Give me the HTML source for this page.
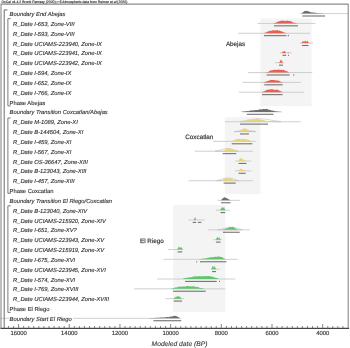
<!DOCTYPE html><html><head><meta charset="utf-8"><style>html,body{margin:0;padding:0;background:#fff;overflow:hidden}svg{display:block;will-change:transform;text-rendering:geometricPrecision}</style></head><body><svg width="350" height="348" viewBox="0 0 350 348">
<rect width="350" height="348" fill="#fff"/>
<rect x="260.3" y="18.5" width="51.20" height="87.70" fill="#f4f4f4"/>
<rect x="224.8" y="117.2" width="35.50" height="76.90" fill="#f4f4f4"/>
<rect x="173.1" y="205.0" width="52.30" height="107.00" fill="#f4f4f4"/>
<g font-family="Liberation Sans, sans-serif" font-size="6.3" fill="#2e2e2e" stroke="#2e2e2e" stroke-width="0.25" stroke-opacity="0.6">
<text x="225.9" y="45.8">Abejas</text>
<text x="185.3" y="138.8">Coxcatlan</text>
<text x="140.0" y="242.5">El Riego</text>
</g>
<line x1="300" y1="13.60" x2="348" y2="13.60" stroke="#c4c4c4" stroke-width="0.8"/>
<path d="M301.60 13.60 L301.60 13.60 L302.50 12.56 L303.40 11.94 L304.30 11.08 L305.20 11.21 L306.10 10.74 L307.00 10.98 L307.90 11.30 L308.80 11.31 L309.70 11.89 L310.60 11.96 L311.50 12.41 L312.40 12.58 L313.30 12.56 L314.20 12.49 L315.10 12.81 L316.00 12.89 L316.90 12.97 L317.80 13.05 L318.70 13.13 L319.60 13.21 L320.50 13.27 L321.40 13.32 L322.30 13.36 L323.20 13.41 L324.10 13.45 L325.00 13.50 L325.90 13.54 L326.80 13.59 L327.00 13.60 L327.00 13.60 Z" fill="#6e6e6e"/>
<rect x="302.3" y="15.45" width="22.80" height="1.1" fill="#737373"/>
<line x1="257.6" y1="23.43" x2="315.4" y2="23.43" stroke="#c4c4c4" stroke-width="0.8"/>
<path d="M273.20 23.43 L273.20 23.43 L274.10 23.13 L275.00 22.83 L275.90 22.75 L276.80 22.33 L277.70 21.76 L278.60 21.25 L279.50 21.21 L280.40 21.09 L281.30 20.56 L282.20 21.03 L283.10 20.47 L284.00 20.86 L284.90 20.99 L285.80 20.97 L286.70 20.81 L287.60 20.55 L288.50 21.02 L289.40 20.93 L290.30 21.12 L291.20 21.54 L292.10 21.79 L293.00 22.44 L293.90 22.76 L294.80 22.76 L295.70 23.00 L296.60 23.21 L297.50 23.43 L297.50 23.43 L297.50 23.43 Z" fill="#e8604f"/>
<rect x="274" y="25.28" width="24.00" height="1.1" fill="#737373"/>
<line x1="238" y1="33.26" x2="310" y2="33.26" stroke="#c4c4c4" stroke-width="0.8"/>
<path d="M263.50 33.26 L263.50 33.26 L264.40 32.90 L265.30 32.54 L266.20 32.41 L267.10 31.77 L268.00 31.60 L268.90 31.36 L269.80 30.96 L270.70 30.81 L271.60 30.74 L272.50 30.31 L273.40 30.27 L274.30 30.50 L275.20 30.28 L276.10 30.35 L277.00 30.18 L277.90 30.36 L278.80 30.72 L279.70 30.50 L280.60 31.24 L281.50 31.36 L282.40 31.52 L283.30 32.25 L284.20 32.46 L285.10 32.79 L286.00 33.09 L286.50 33.26 L286.50 33.26 Z" fill="#e8604f"/>
<rect x="264" y="35.11" width="22.50" height="1.1" fill="#737373"/>
<rect x="287.8" y="35.11" width="1.20" height="1.1" fill="#737373"/>
<line x1="300" y1="43.09" x2="313" y2="43.09" stroke="#c4c4c4" stroke-width="0.8"/>
<path d="M301.50 43.09 L301.50 43.09 L302.20 40.89 L303.00 42.49 L304.00 40.59 L304.80 42.09 L305.80 40.49 L306.60 41.89 L307.60 40.79 L308.40 42.29 L309.20 43.09 L309.20 43.09 Z" fill="#e8604f"/>
<rect x="302" y="44.94" width="6.50" height="1.1" fill="#737373"/>
<line x1="280" y1="52.92" x2="292" y2="52.92" stroke="#c4c4c4" stroke-width="0.8"/>
<path d="M282.00 52.92 L282.00 52.92 L282.80 51.12 L283.60 52.12 L284.60 50.72 L285.40 51.92 L286.20 52.92 L287.60 52.92 L288.20 51.92 L288.80 52.92 L288.80 52.92 Z" fill="#e8604f"/>
<rect x="282.5" y="54.77" width="3.70" height="1.1" fill="#737373"/>
<rect x="288" y="54.77" width="1.00" height="1.1" fill="#737373"/>
<line x1="274.5" y1="62.75" x2="284" y2="62.75" stroke="#c4c4c4" stroke-width="0.8"/>
<path d="M278.30 62.75 L278.30 62.75 L279.00 61.95 L279.80 62.35 L280.60 59.75 L281.60 60.15 L282.90 62.75 L282.90 62.75 Z" fill="#e8604f"/>
<rect x="279" y="64.60" width="4.00" height="1.1" fill="#737373"/>
<line x1="248" y1="72.58" x2="312.3" y2="72.58" stroke="#c4c4c4" stroke-width="0.8"/>
<path d="M264.60 72.58 L264.60 72.58 L265.50 72.36 L266.40 72.13 L267.30 71.88 L268.20 71.89 L269.10 71.19 L270.00 70.82 L270.90 70.62 L271.80 70.16 L272.70 70.23 L273.60 69.85 L274.50 69.82 L275.40 69.80 L276.30 69.92 L277.20 69.71 L278.10 69.55 L279.00 69.75 L279.90 69.68 L280.80 70.08 L281.70 69.78 L282.60 69.90 L283.50 69.86 L284.40 70.19 L285.30 70.79 L286.20 71.14 L287.10 71.37 L288.00 71.82 L288.90 72.22 L289.70 72.58 L289.70 72.58 Z" fill="#e8604f"/>
<rect x="266.6" y="74.43" width="23.10" height="1.1" fill="#737373"/>
<rect x="293" y="74.43" width="1.20" height="1.1" fill="#737373"/>
<line x1="242.5" y1="82.41" x2="300.9" y2="82.41" stroke="#c4c4c4" stroke-width="0.8"/>
<path d="M263.50 82.41 L263.50 82.41 L264.40 82.05 L265.30 81.69 L266.20 81.67 L267.10 81.05 L268.00 80.91 L268.90 80.62 L269.80 80.42 L270.70 79.77 L271.60 80.08 L272.50 80.01 L273.40 79.99 L274.30 79.83 L275.20 80.44 L276.10 80.36 L277.00 80.43 L277.90 80.50 L278.80 80.81 L279.70 81.09 L280.60 81.75 L281.50 81.90 L282.40 82.25 L282.80 82.41 L282.80 82.41 Z" fill="#e8604f"/>
<rect x="264.3" y="84.26" width="18.30" height="1.1" fill="#737373"/>
<line x1="239" y1="92.24" x2="304" y2="92.24" stroke="#c4c4c4" stroke-width="0.8"/>
<path d="M261.80 92.24 L261.80 92.24 L262.70 91.86 L263.60 91.47 L264.50 91.17 L265.40 90.79 L266.30 90.07 L267.20 89.66 L268.10 89.87 L269.00 89.58 L269.90 89.42 L270.80 89.28 L271.70 89.17 L272.60 89.20 L273.50 89.56 L274.40 89.94 L275.30 89.82 L276.20 89.81 L277.10 89.69 L278.00 89.82 L278.90 90.34 L279.80 90.88 L280.70 91.27 L281.60 91.71 L282.50 92.11 L282.80 92.24 L282.80 92.24 Z" fill="#e8604f"/>
<rect x="262" y="94.09" width="20.60" height="1.1" fill="#737373"/>
<line x1="242" y1="111.90" x2="282" y2="111.90" stroke="#c4c4c4" stroke-width="0.8"/>
<path d="M240.50 111.90 L240.50 111.90 L241.40 111.80 L242.30 111.70 L243.20 111.60 L244.10 111.50 L245.00 111.40 L245.90 111.29 L246.80 111.18 L247.70 111.02 L248.60 111.29 L249.50 110.67 L250.40 110.62 L251.30 110.43 L252.20 110.34 L253.10 110.45 L254.00 110.31 L254.90 110.35 L255.80 109.90 L256.70 110.11 L257.60 109.97 L258.50 109.74 L259.40 109.62 L260.30 109.36 L261.20 109.39 L262.10 109.30 L263.00 109.09 L263.90 109.00 L264.80 108.91 L265.70 109.20 L266.60 108.79 L267.50 109.11 L268.40 109.63 L269.30 109.81 L270.20 110.00 L271.10 110.26 L272.00 110.68 L272.90 110.51 L273.80 110.64 L274.70 111.17 L275.60 111.31 L276.50 111.45 L277.40 111.55 L278.30 111.65 L279.20 111.75 L280.10 111.85 L280.60 111.90 L280.60 111.90 Z" fill="#6e6e6e"/>
<rect x="246.8" y="113.75" width="26.70" height="1.1" fill="#737373"/>
<line x1="225" y1="121.73" x2="300.9" y2="121.73" stroke="#c4c4c4" stroke-width="0.8"/>
<path d="M240.00 121.73 L240.00 121.73 L246.00 120.43 L252.00 119.33 L258.00 118.73 L264.00 118.93 L270.00 119.93 L276.00 120.93 L281.00 121.73 L281.00 121.73 Z" fill="none" stroke="#bdbdbd" stroke-width="0.6"/>
<path d="M239.70 121.73 L239.70 121.73 L240.60 121.54 L241.50 121.35 L242.40 121.16 L243.30 120.97 L244.20 120.85 L245.10 120.91 L246.00 120.72 L246.90 120.39 L247.80 120.28 L248.70 119.79 L249.60 120.03 L250.50 119.95 L251.40 119.26 L252.30 119.40 L253.20 119.52 L254.10 119.17 L255.00 119.36 L255.90 119.09 L256.80 118.84 L257.70 118.93 L258.60 119.05 L259.50 119.40 L260.40 119.47 L261.30 119.72 L262.20 119.50 L263.10 119.79 L264.00 119.95 L264.90 120.52 L265.80 120.88 L266.70 120.98 L267.60 121.30 L268.50 121.62 L268.80 121.73 L268.80 121.73 Z" fill="#e8d47a"/>
<rect x="240" y="123.58" width="28.00" height="1.1" fill="#737373"/>
<line x1="234.3" y1="131.56" x2="255.7" y2="131.56" stroke="#c4c4c4" stroke-width="0.8"/>
<path d="M234.30 131.56 L234.30 131.56 L239.00 130.96 L244.00 129.56 L250.00 130.56 L255.70 131.56 L255.70 131.56 Z" fill="none" stroke="#bdbdbd" stroke-width="0.6"/>
<path d="M239.30 131.56 L239.30 131.56 L241.00 130.36 L243.00 128.96 L244.50 128.26 L246.00 128.76 L248.00 130.36 L249.30 131.56 L249.30 131.56 Z" fill="#e8d47a"/>
<rect x="240" y="133.41" width="8.90" height="1.1" fill="#737373"/>
<line x1="213" y1="141.39" x2="255.7" y2="141.39" stroke="#c4c4c4" stroke-width="0.8"/>
<path d="M231.10 141.39 L231.10 141.39 L232.00 141.01 L232.90 140.63 L233.80 140.13 L234.70 139.67 L235.60 139.42 L236.50 139.13 L237.40 138.91 L238.30 138.87 L239.20 139.08 L240.10 138.83 L241.00 138.93 L241.90 139.12 L242.80 139.12 L243.70 139.07 L244.60 139.20 L245.50 139.06 L246.40 139.10 L247.30 139.70 L248.20 139.71 L249.10 139.98 L250.00 140.29 L250.90 140.80 L251.80 141.05 L252.70 141.22 L253.60 141.39 L253.60 141.39 Z" fill="#e8d47a"/>
<rect x="231.7" y="143.24" width="20.60" height="1.1" fill="#737373"/>
<line x1="194.8" y1="151.22" x2="252.9" y2="151.22" stroke="#c4c4c4" stroke-width="0.8"/>
<path d="M215.00 151.22 L215.00 151.22 L219.00 150.42 L224.00 148.72 L229.00 148.62 L234.00 149.82 L238.00 151.22 L238.00 151.22 Z" fill="none" stroke="#bdbdbd" stroke-width="0.6"/>
<path d="M222.70 151.22 L222.70 151.22 L223.60 150.60 L224.50 150.08 L225.40 149.49 L226.30 148.94 L227.20 148.69 L228.10 148.46 L229.00 148.35 L229.90 148.31 L230.80 148.69 L231.70 149.26 L232.60 149.61 L233.50 150.02 L234.40 150.62 L235.30 151.07 L235.60 151.22 L235.60 151.22 Z" fill="#e8d47a"/>
<rect x="222.7" y="153.07" width="13.50" height="1.1" fill="#737373"/>
<line x1="235" y1="161.05" x2="251.4" y2="161.05" stroke="#c4c4c4" stroke-width="0.8"/>
<path d="M237.90 161.05 L237.90 161.05 L239.00 159.55 L240.70 158.05 L242.00 158.85 L244.00 160.05 L246.40 161.05 L246.40 161.05 Z" fill="#e8d47a"/>
<rect x="238.6" y="162.90" width="7.80" height="1.1" fill="#737373"/>
<line x1="235" y1="170.88" x2="251.4" y2="170.88" stroke="#c4c4c4" stroke-width="0.8"/>
<path d="M237.90 170.88 L237.90 170.88 L239.20 169.88 L240.70 168.38 L242.00 169.28 L243.50 170.08 L245.00 170.88 L245.00 170.88 Z" fill="#e8d47a"/>
<rect x="238.6" y="172.73" width="7.10" height="1.1" fill="#737373"/>
<line x1="188.5" y1="180.71" x2="252.9" y2="180.71" stroke="#c4c4c4" stroke-width="0.8"/>
<path d="M216.40 180.71 L216.40 180.71 L221.00 179.41 L226.00 177.91 L231.00 178.11 L235.00 179.51 L238.60 180.71 L238.60 180.71 Z" fill="none" stroke="#bdbdbd" stroke-width="0.6"/>
<path d="M220.70 180.71 L220.70 180.71 L221.60 180.29 L222.50 180.16 L223.40 179.36 L224.30 178.81 L225.20 178.57 L226.10 178.30 L227.00 178.37 L227.90 178.46 L228.80 178.21 L229.70 178.62 L230.60 178.59 L231.50 178.80 L232.40 179.50 L233.30 179.90 L234.20 180.18 L235.10 180.50 L235.70 180.71 L235.70 180.71 Z" fill="#e8d47a"/>
<rect x="223.6" y="182.56" width="12.10" height="1.1" fill="#737373"/>
<line x1="217.6" y1="200.37" x2="239.9" y2="200.37" stroke="#c4c4c4" stroke-width="0.8"/>
<path d="M221.00 200.37 L221.00 200.37 L222.50 198.57 L224.50 197.27 L226.50 197.97 L228.50 199.17 L230.50 200.37 L230.50 200.37 Z" fill="#6e6e6e"/>
<rect x="221" y="202.22" width="9.50" height="1.1" fill="#737373"/>
<line x1="215.9" y1="210.20" x2="229.6" y2="210.20" stroke="#c4c4c4" stroke-width="0.8"/>
<path d="M220.20 210.20 L220.20 210.20 L221.20 208.20 L222.20 207.00 L223.00 208.20 L224.00 206.90 L225.30 210.20 L225.30 210.20 Z" fill="#62c46e"/>
<rect x="220.5" y="212.05" width="4.80" height="1.1" fill="#737373"/>
<line x1="188.4" y1="220.03" x2="204.7" y2="220.03" stroke="#c4c4c4" stroke-width="0.8"/>
<path d="M193.80 220.03 L193.80 220.03 L194.60 218.03 L195.20 216.83 L196.10 220.03 L196.10 220.03 Z" fill="#62c46e"/>
<rect x="192.7" y="221.88" width="3.40" height="1.1" fill="#737373"/>
<rect x="197.9" y="221.88" width="3.40" height="1.1" fill="#737373"/>
<line x1="208.2" y1="229.86" x2="250" y2="229.86" stroke="#c4c4c4" stroke-width="0.8"/>
<path d="M217.90 229.86 L217.90 229.86 L223.00 228.66 L228.00 227.26 L233.00 227.06 L238.00 228.46 L242.30 229.86 L242.30 229.86 Z" fill="none" stroke="#bdbdbd" stroke-width="0.6"/>
<path d="M222.40 229.86 L222.40 229.86 L223.30 229.58 L224.20 229.27 L225.10 228.65 L226.00 228.38 L226.90 228.30 L227.80 227.92 L228.70 227.64 L229.60 226.97 L230.50 226.90 L231.40 227.25 L232.30 226.89 L233.20 227.02 L234.10 227.47 L235.00 228.15 L235.90 228.53 L236.80 229.26 L237.70 229.48 L238.40 229.86 L238.40 229.86 Z" fill="#62c46e"/>
<rect x="223" y="231.71" width="16.70" height="1.1" fill="#737373"/>
<line x1="213.3" y1="239.69" x2="221.9" y2="239.69" stroke="#c4c4c4" stroke-width="0.8"/>
<path d="M215.90 239.69 L215.90 239.69 L216.60 237.89 L217.20 236.69 L218.20 238.49 L219.20 236.89 L220.00 238.69 L221.00 239.69 L221.00 239.69 Z" fill="#62c46e"/>
<rect x="216" y="241.54" width="4.50" height="1.1" fill="#737373"/>
<line x1="168" y1="249.52" x2="183" y2="249.52" stroke="#c4c4c4" stroke-width="0.8"/>
<path d="M177.10 249.52 L177.10 249.52 L178.20 247.72 L179.00 246.52 L180.20 247.92 L181.40 246.92 L182.90 249.52 L182.90 249.52 Z" fill="#62c46e"/>
<rect x="177.6" y="251.37" width="4.70" height="1.1" fill="#737373"/>
<line x1="163.4" y1="259.35" x2="237.7" y2="259.35" stroke="#c4c4c4" stroke-width="0.8"/>
<path d="M195.50 259.35 L195.50 259.35 L196.40 259.29 L197.30 259.23 L198.20 259.17 L199.10 259.11 L200.00 259.05 L200.90 258.94 L201.80 258.83 L202.70 258.73 L203.60 258.62 L204.50 258.85 L205.40 258.15 L206.30 258.18 L207.20 258.10 L208.10 257.70 L209.00 257.84 L209.90 257.37 L210.80 257.20 L211.70 257.37 L212.60 257.14 L213.50 256.99 L214.40 256.96 L215.30 256.69 L216.20 256.84 L217.10 256.71 L218.00 256.85 L218.90 256.36 L219.80 256.82 L220.70 256.90 L221.60 257.01 L222.50 257.36 L223.40 258.19 L224.30 258.59 L225.20 259.08 L225.70 259.35 L225.70 259.35 Z" fill="#62c46e"/>
<rect x="196.2" y="261.20" width="1.00" height="1.1" fill="#737373"/>
<rect x="200" y="261.20" width="26.30" height="1.1" fill="#737373"/>
<line x1="211" y1="269.18" x2="219.4" y2="269.18" stroke="#c4c4c4" stroke-width="0.8"/>
<path d="M211.40 269.18 L211.40 269.18 L212.20 266.78 L213.00 265.78 L213.80 267.78 L214.80 265.98 L216.00 269.18 L216.00 269.18 Z" fill="#62c46e"/>
<rect x="212" y="271.03" width="4.00" height="1.1" fill="#737373"/>
<line x1="157.1" y1="279.01" x2="235.4" y2="279.01" stroke="#c4c4c4" stroke-width="0.8"/>
<path d="M182.00 279.01 L182.00 279.01 L182.90 278.77 L183.80 278.53 L184.70 278.29 L185.60 277.86 L186.50 277.88 L187.40 277.64 L188.30 277.42 L189.20 277.56 L190.10 277.18 L191.00 277.20 L191.90 277.17 L192.80 276.57 L193.70 276.83 L194.60 276.52 L195.50 276.25 L196.40 276.31 L197.30 276.43 L198.20 276.29 L199.10 276.25 L200.00 276.09 L200.90 276.48 L201.80 276.19 L202.70 276.36 L203.60 276.32 L204.50 276.01 L205.40 276.16 L206.30 276.15 L207.20 276.05 L208.10 275.97 L209.00 276.27 L209.90 276.19 L210.80 276.42 L211.70 276.59 L212.60 276.66 L213.50 277.09 L214.40 277.40 L215.30 277.79 L216.20 277.84 L217.10 278.27 L218.00 278.48 L218.90 278.69 L219.80 278.95 L220.00 279.01 L220.00 279.01 Z" fill="#62c46e"/>
<rect x="185.1" y="280.86" width="31.60" height="1.1" fill="#737373"/>
<rect x="219" y="280.86" width="1.00" height="1.1" fill="#737373"/>
<line x1="134" y1="288.84" x2="225.1" y2="288.84" stroke="#c4c4c4" stroke-width="0.8"/>
<path d="M170.00 288.84 L170.00 288.84 L170.90 288.66 L171.80 288.48 L172.70 288.30 L173.60 288.10 L174.50 287.82 L175.40 287.50 L176.30 287.25 L177.20 287.45 L178.10 287.06 L179.00 286.62 L179.90 286.54 L180.80 286.81 L181.70 286.67 L182.60 286.41 L183.50 286.61 L184.40 286.49 L185.30 286.56 L186.20 286.19 L187.10 286.12 L188.00 286.05 L188.90 286.50 L189.80 286.16 L190.70 286.22 L191.60 286.56 L192.50 286.14 L193.40 286.19 L194.30 286.82 L195.20 286.56 L196.10 287.07 L197.00 287.20 L197.90 287.08 L198.80 287.35 L199.70 287.93 L200.60 287.95 L201.50 288.04 L202.40 288.22 L203.30 288.39 L204.20 288.56 L205.10 288.73 L205.70 288.84 L205.70 288.84 Z" fill="#62c46e"/>
<rect x="173" y="290.69" width="32.70" height="1.1" fill="#737373"/>
<line x1="165.7" y1="298.67" x2="184" y2="298.67" stroke="#c4c4c4" stroke-width="0.8"/>
<path d="M173.70 298.67 L173.70 298.67 L175.00 297.37 L177.00 296.47 L178.50 296.17 L180.00 296.67 L181.70 298.67 L181.70 298.67 Z" fill="#62c46e"/>
<rect x="173.7" y="300.52" width="8.30" height="1.1" fill="#737373"/>
<line x1="73" y1="318.33" x2="181.4" y2="318.33" stroke="#c4c4c4" stroke-width="0.8"/>
<path d="M146.00 318.33 L146.00 318.33 L146.90 318.29 L147.80 318.24 L148.70 318.20 L149.60 318.15 L150.50 318.11 L151.40 318.06 L152.30 318.02 L153.20 317.97 L154.10 317.93 L155.00 317.88 L155.90 317.84 L156.80 317.79 L157.70 317.75 L158.60 317.69 L159.50 317.63 L160.40 317.57 L161.30 317.55 L162.20 317.60 L163.10 317.62 L164.00 317.49 L164.90 317.16 L165.80 317.49 L166.70 317.08 L167.60 317.06 L168.50 317.22 L169.40 316.92 L170.30 316.61 L171.20 316.54 L172.10 316.68 L173.00 315.99 L173.90 315.94 L174.80 315.66 L175.70 316.02 L176.60 316.22 L177.50 316.66 L178.40 316.93 L179.30 317.77 L180.00 318.33 L180.00 318.33 Z" fill="#6e6e6e"/>
<rect x="153.4" y="320.18" width="27.90" height="1.1" fill="#737373"/>
<line x1="0" y1="318.3" x2="9.5" y2="318.3" stroke="#c4c4c4" stroke-width="0.8"/>
<polyline points="1.0,328.2 1.0,4.1 348.2,4.1 348.2,328.2" stroke="#8a8a8a" stroke-width="1.1" fill="none"/>
<line x1="0.5" y1="328.3" x2="349.1" y2="328.3" stroke="#444" stroke-width="1.2"/>
<polyline points="7.4,9.9 4.2,9.9 4.2,328.2" stroke="#5a5a5a" stroke-width="0.9" fill="none"/>
<polyline points="10.7,18.6 7.9,18.6 7.9,105.9 10.7,105.9" stroke="#5a5a5a" stroke-width="0.8" fill="none"/>
<polyline points="10.7,118.0 7.9,118.0 7.9,193.3 10.7,193.3" stroke="#5a5a5a" stroke-width="0.8" fill="none"/>
<polyline points="10.7,205.8 7.9,205.8 7.9,312.4 10.7,312.4" stroke="#5a5a5a" stroke-width="0.8" fill="none"/>
<g font-family="Liberation Sans, sans-serif" font-size="5.8" fill="#2e2e2e" stroke="#2e2e2e" stroke-width="0.2" stroke-opacity="0.55">
<text x="9.6" y="16.10" font-style="italic">Boundary End Abejas</text>
<text x="13.0" y="25.93" font-style="italic">R_Date I-653, Zone-VIII</text>
<text x="13.0" y="35.76" font-style="italic">R_Date I-593, Zone-VIII</text>
<text x="13.0" y="45.59" font-style="italic">R_Date UCIAMS-223940, Zone-IX</text>
<text x="13.0" y="55.42" font-style="italic">R_Date UCIAMS-223941, Zone-IX</text>
<text x="13.0" y="65.25" font-style="italic">R_Date UCIAMS-223942, Zone-IX</text>
<text x="13.0" y="75.08" font-style="italic">R_Date I-594, Zone-IX</text>
<text x="13.0" y="84.91" font-style="italic">R_Date I-652, Zone-IX</text>
<text x="13.0" y="94.74" font-style="italic">R_Date I-766, Zone-IX</text>
<text x="9.6" y="104.57">Phase Abejas</text>
<text x="9.6" y="114.40" font-style="italic">Boundary Transition Coxcatlan/Abejas</text>
<text x="13.0" y="124.23" font-style="italic">R_Date M-1089, Zone-XI</text>
<text x="13.0" y="134.06" font-style="italic">R_Date B-144504, Zone-XI</text>
<text x="13.0" y="143.89" font-style="italic">R_Date I-459, Zone-XI</text>
<text x="13.0" y="153.72" font-style="italic">R_Date I-567, Zone-XI</text>
<text x="13.0" y="163.55" font-style="italic">R_Date OS-36647, Zone-XIII</text>
<text x="13.0" y="173.38" font-style="italic">R_Date B-123043, Zone-XIII</text>
<text x="13.0" y="183.21" font-style="italic">R_Date I-457, Zone-XIII</text>
<text x="9.6" y="193.04">Phase Coxcatlan</text>
<text x="9.6" y="202.87" font-style="italic">Boundary Transition El Riego/Coxcatlan</text>
<text x="13.0" y="212.70" font-style="italic">R_Date B-123040, Zone-XIV</text>
<text x="13.0" y="222.53" font-style="italic">R_Date UCIAMS-215920, Zone-XIV</text>
<text x="13.0" y="232.36" font-style="italic">R_Date I-651, Zone-XV?</text>
<text x="13.0" y="242.19" font-style="italic">R_Date UCIAMS-223943, Zone-XV</text>
<text x="13.0" y="252.02" font-style="italic">R_Date UCIAMS-215919, Zone-XV</text>
<text x="13.0" y="261.85" font-style="italic">R_Date I-675, Zone-XVI</text>
<text x="13.0" y="271.68" font-style="italic">R_Date UCIAMS-223945, Zone-XVI</text>
<text x="13.0" y="281.51" font-style="italic">R_Date I-574, Zone-XVI</text>
<text x="13.0" y="291.34" font-style="italic">R_Date I-769, Zone-XVIII</text>
<text x="13.0" y="301.17" font-style="italic">R_Date UCIAMS-223944, Zone-XVIII</text>
<text x="9.6" y="311.00">Phase El Riego</text>
<text x="9.6" y="320.83" font-style="italic">Boundary Start El Riego</text>
</g>
<text x="1.4" y="3.3" font-family="Liberation Sans, sans-serif" font-size="3.45" fill="#2e2e2e" stroke="#2e2e2e" stroke-width="0.2" stroke-opacity="0.7">OxCal v4.4.2 Bronk Ramsey (2020); r:5 Atmospheric data from Reimer et al (2020)</text>
<g stroke="#666" stroke-width="0.8"><line x1="8.46" y1="326.0" x2="8.46" y2="328.2"/><line x1="13.53" y1="326.0" x2="13.53" y2="328.2"/><line x1="18.60" y1="324.0" x2="18.60" y2="328.2"/><line x1="23.67" y1="326.0" x2="23.67" y2="328.2"/><line x1="28.74" y1="326.0" x2="28.74" y2="328.2"/><line x1="33.80" y1="326.0" x2="33.80" y2="328.2"/><line x1="38.87" y1="326.0" x2="38.87" y2="328.2"/><line x1="43.94" y1="326.0" x2="43.94" y2="328.2"/><line x1="49.01" y1="326.0" x2="49.01" y2="328.2"/><line x1="54.08" y1="326.0" x2="54.08" y2="328.2"/><line x1="59.14" y1="326.0" x2="59.14" y2="328.2"/><line x1="64.21" y1="326.0" x2="64.21" y2="328.2"/><line x1="69.28" y1="324.0" x2="69.28" y2="328.2"/><line x1="74.35" y1="326.0" x2="74.35" y2="328.2"/><line x1="79.42" y1="326.0" x2="79.42" y2="328.2"/><line x1="84.48" y1="326.0" x2="84.48" y2="328.2"/><line x1="89.55" y1="326.0" x2="89.55" y2="328.2"/><line x1="94.62" y1="326.0" x2="94.62" y2="328.2"/><line x1="99.69" y1="326.0" x2="99.69" y2="328.2"/><line x1="104.76" y1="326.0" x2="104.76" y2="328.2"/><line x1="109.82" y1="326.0" x2="109.82" y2="328.2"/><line x1="114.89" y1="326.0" x2="114.89" y2="328.2"/><line x1="119.96" y1="324.0" x2="119.96" y2="328.2"/><line x1="125.03" y1="326.0" x2="125.03" y2="328.2"/><line x1="130.10" y1="326.0" x2="130.10" y2="328.2"/><line x1="135.16" y1="326.0" x2="135.16" y2="328.2"/><line x1="140.23" y1="326.0" x2="140.23" y2="328.2"/><line x1="145.30" y1="326.0" x2="145.30" y2="328.2"/><line x1="150.37" y1="326.0" x2="150.37" y2="328.2"/><line x1="155.44" y1="326.0" x2="155.44" y2="328.2"/><line x1="160.50" y1="326.0" x2="160.50" y2="328.2"/><line x1="165.57" y1="326.0" x2="165.57" y2="328.2"/><line x1="170.64" y1="324.0" x2="170.64" y2="328.2"/><line x1="175.71" y1="326.0" x2="175.71" y2="328.2"/><line x1="180.78" y1="326.0" x2="180.78" y2="328.2"/><line x1="185.84" y1="326.0" x2="185.84" y2="328.2"/><line x1="190.91" y1="326.0" x2="190.91" y2="328.2"/><line x1="195.98" y1="326.0" x2="195.98" y2="328.2"/><line x1="201.05" y1="326.0" x2="201.05" y2="328.2"/><line x1="206.12" y1="326.0" x2="206.12" y2="328.2"/><line x1="211.18" y1="326.0" x2="211.18" y2="328.2"/><line x1="216.25" y1="326.0" x2="216.25" y2="328.2"/><line x1="221.32" y1="324.0" x2="221.32" y2="328.2"/><line x1="226.39" y1="326.0" x2="226.39" y2="328.2"/><line x1="231.46" y1="326.0" x2="231.46" y2="328.2"/><line x1="236.52" y1="326.0" x2="236.52" y2="328.2"/><line x1="241.59" y1="326.0" x2="241.59" y2="328.2"/><line x1="246.66" y1="326.0" x2="246.66" y2="328.2"/><line x1="251.73" y1="326.0" x2="251.73" y2="328.2"/><line x1="256.80" y1="326.0" x2="256.80" y2="328.2"/><line x1="261.86" y1="326.0" x2="261.86" y2="328.2"/><line x1="266.93" y1="326.0" x2="266.93" y2="328.2"/><line x1="272.00" y1="324.0" x2="272.00" y2="328.2"/><line x1="277.07" y1="326.0" x2="277.07" y2="328.2"/><line x1="282.14" y1="326.0" x2="282.14" y2="328.2"/><line x1="287.20" y1="326.0" x2="287.20" y2="328.2"/><line x1="292.27" y1="326.0" x2="292.27" y2="328.2"/><line x1="297.34" y1="326.0" x2="297.34" y2="328.2"/><line x1="302.41" y1="326.0" x2="302.41" y2="328.2"/><line x1="307.48" y1="326.0" x2="307.48" y2="328.2"/><line x1="312.54" y1="326.0" x2="312.54" y2="328.2"/><line x1="317.61" y1="326.0" x2="317.61" y2="328.2"/><line x1="322.68" y1="324.0" x2="322.68" y2="328.2"/><line x1="327.75" y1="326.0" x2="327.75" y2="328.2"/><line x1="332.82" y1="326.0" x2="332.82" y2="328.2"/><line x1="337.88" y1="326.0" x2="337.88" y2="328.2"/><line x1="342.95" y1="326.0" x2="342.95" y2="328.2"/></g>
<g font-family="Liberation Sans, sans-serif" font-size="5.9" fill="#2e2e2e" stroke="#2e2e2e" stroke-width="0.22" stroke-opacity="0.6" text-anchor="middle">
<text x="18.60" y="335.3">16000</text>
<text x="69.28" y="335.3">14000</text>
<text x="119.96" y="335.3">12000</text>
<text x="170.64" y="335.3">10000</text>
<text x="221.32" y="335.3">8000</text>
<text x="272.00" y="335.3">6000</text>
<text x="322.68" y="335.3">4000</text>
</g>
<text x="179.5" y="345.9" font-family="Liberation Sans, sans-serif" font-size="6.7" font-style="italic" fill="#2e2e2e" stroke="#2e2e2e" stroke-width="0.15" stroke-opacity="0.5" text-anchor="middle">Modeled date (BP)</text>
</svg></body></html>
